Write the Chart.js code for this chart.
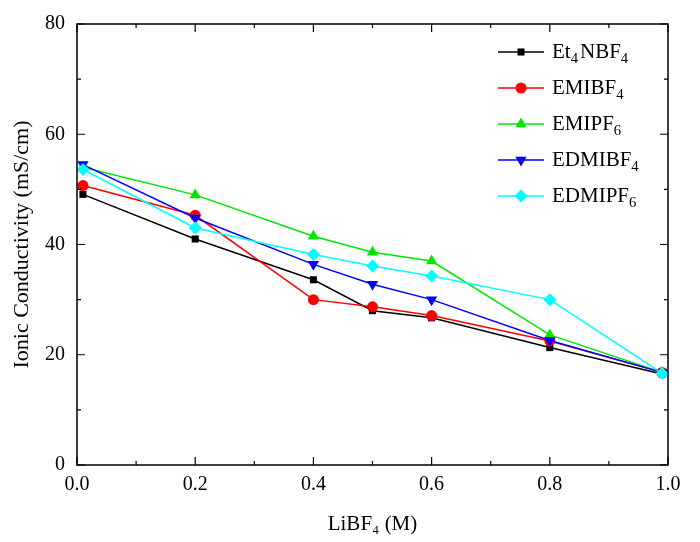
<!DOCTYPE html>
<html>
<head>
<meta charset="utf-8">
<script src="https://cdn.jsdelivr.net/npm/chart.js@4/dist/chart.umd.min.js"></script>
<style>
  html, body { margin: 0; padding: 0; background: #fff; }
  #wrap { width: 700px; height: 542px; position: relative; }
</style>
</head>
<body>
<div id="wrap"><canvas id="myChart"></canvas></div>
<script>
// concentrations of LiBF4 (M)
const conc = [0.01, 0.2, 0.4, 0.5, 0.6, 0.8, 0.99];

const seriesNames = ['Et_4NBF_4', 'EMIBF_4', 'EMIPF_6', 'EDMIBF_4', 'EDMIPF_6'];

const et4nbf4 = [49.1, 41.0, 33.6, 28.0, 26.7, 21.3, 16.5];
const emibf4 = [50.7, 45.3, 30.0, 28.7, 27.1, 22.5, 16.8];
const emipf6 = [54.0, 49.0, 41.5, 38.6, 37.0, 23.6, 16.8];
const edmibf4 = [54.5, 44.8, 36.4, 32.8, 30.0, 22.6, 16.8];
const edmipf6 = [53.6, 43.0, 38.2, 36.1, 34.3, 30.0, 16.6];

const xTicks = [0.0, 0.2, 0.4, 0.6, 0.8, 1.0];
const yTicks = [0, 20, 40, 60, 80];

const FONT = 'Liberation Serif, Times New Roman, serif';

const styles = [
  { color: '#000000', point: 'rect', rot: 0, r: 5 },
  { color: '#ff0000', point: 'circle', rot: 0, r: 5.5 },
  { color: '#00e600', point: 'triangle', rot: 0, r: 6.5 },
  { color: '#0000ff', point: 'triangle', rot: 180, r: 6.5 },
  { color: '#00ffff', point: 'rectRot', rot: 0, r: 6.5 }
];

const allValues = [et4nbf4, emibf4, emipf6, edmibf4, edmipf6];

const datasets = allValues.map((vals, i) => ({
  label: seriesNames[i],
  data: vals.map((v, j) => ({ x: conc[j], y: v })),
  borderColor: styles[i].color,
  backgroundColor: styles[i].color,
  pointStyle: styles[i].point,
  pointRotation: styles[i].rot,
  pointRadius: styles[i].r,
  pointBorderWidth: 0,
  borderWidth: 1.5,
  showLine: true,
  fill: false,
  tension: 0,
  order: 5 - i
}));

// frame with inward ticks, like the original plot
const framePlugin = {
  id: 'frame',
  afterDatasetsDraw(chart) {
    const { ctx, chartArea: a, scales } = chart;
    ctx.save();
    ctx.strokeStyle = '#000';
    ctx.lineWidth = 1.5;
    ctx.strokeRect(a.left, a.top, a.right - a.left, a.bottom - a.top);
    ctx.lineWidth = 1.2;
    ctx.beginPath();
    for (let v = 0; v <= 1.0001; v += 0.1) {
      const px = scales.x.getPixelForValue(v);
      const major = Math.round(v * 10) % 2 === 0;
      const len = major ? 8 : 4;
      ctx.moveTo(px, a.bottom); ctx.lineTo(px, a.bottom - len);
      ctx.moveTo(px, a.top); ctx.lineTo(px, a.top + len);
    }
    for (let v = 0; v <= 80; v += 10) {
      const py = scales.y.getPixelForValue(v);
      const len = v % 20 === 0 ? 8 : 4;
      ctx.moveTo(a.left, py); ctx.lineTo(a.left + len, py);
      ctx.moveTo(a.right, py); ctx.lineTo(a.right - len, py);
    }
    ctx.stroke();
    ctx.restore();
  }
};

// legend inside the plot, with subscripts
function drawSubText(ctx, text, x, y, size) {
  const parts = text.split(/(_\d)/);
  let cx = x;
  parts.forEach(p => {
    if (!p) return;
    if (p[0] === '_') {
      ctx.font = (size * 0.7) + 'px ' + FONT;
      ctx.fillText(p.slice(1), cx, y + size * 0.32);
      cx += ctx.measureText(p.slice(1)).width + 2;
    } else {
      ctx.font = size + 'px ' + FONT;
      ctx.fillText(p, cx, y);
      cx += ctx.measureText(p).width;
    }
  });
}

const legendPlugin = {
  id: 'insideLegend',
  afterDraw(chart) {
    const ctx = chart.ctx;
    ctx.save();
    ctx.textBaseline = 'middle';
    ctx.fillStyle = '#000';
    const x0 = 498, y0 = 52, step = 36;
    chart.data.datasets.forEach((ds, i) => {
      const y = y0 + i * step;
      ctx.strokeStyle = ds.borderColor;
      ctx.lineWidth = 1.5;
      ctx.beginPath();
      ctx.moveTo(x0, y); ctx.lineTo(x0 + 46, y);
      ctx.stroke();
      ctx.fillStyle = ds.backgroundColor;
      Chart.helpers.drawPoint(ctx, {
        pointStyle: ds.pointStyle, rotation: ds.pointRotation,
        radius: ds.pointRadius, borderWidth: 0
      }, x0 + 23, y);
      ctx.fillStyle = '#000';
      drawSubText(ctx, ds.label, x0 + 54, y, 21);
    });
    ctx.restore();
  }
};

new Chart(document.getElementById('myChart'), {
  type: 'scatter',
  data: { datasets: datasets },
  options: {
    responsive: true,
    maintainAspectRatio: false,
    animation: false,
    layout: { padding: { left: 0, right: 32, top: 23, bottom: 0 } },
    plugins: { legend: { display: false }, tooltip: { enabled: false } },
    scales: {
      x: {
        type: 'linear', min: 0, max: 1,
        afterFit(s) { s.height = 77; },
        afterBuildTicks(s) { s.ticks = xTicks.map(v => ({ value: v })); },
        grid: { display: false, drawTicks: false },
        border: { display: false },
        ticks: { color: '#000', padding: 8, font: { family: FONT, size: 20 },
                 callback: v => Number(v).toFixed(1), maxRotation: 0 },
        title: { display: true, text: 'LiBF₄ (M)', color: '#000',
                 font: { family: FONT, size: 21 }, padding: { top: 0, bottom: 5 } }
      },
      y: {
        min: 0, max: 80,
        afterFit(s) { s.width = 77; },
        afterBuildTicks(s) { s.ticks = yTicks.map(v => ({ value: v })); },
        grid: { display: false, drawTicks: false },
        border: { display: false },
        ticks: { color: '#000', padding: 12, font: { family: FONT, size: 20 } },
        title: { display: true, text: 'Ionic Conductivity (mS/cm)', color: '#000',
                 font: { family: FONT, size: 22 }, padding: { top: 9, bottom: 0 } }
      }
    }
  },
  plugins: [framePlugin, legendPlugin]
});
</script>
</body>
</html>
